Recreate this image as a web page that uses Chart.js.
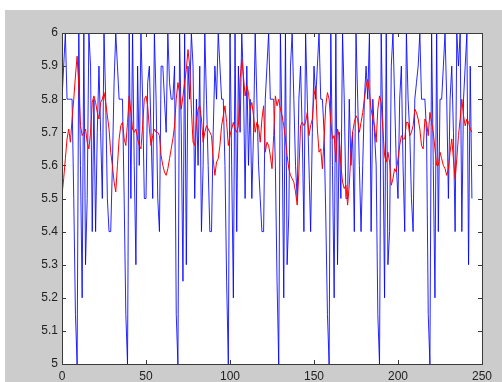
<!DOCTYPE html>
<html>
<head>
<meta charset="utf-8">
<script src="https://cdn.jsdelivr.net/npm/chart.js@4"></script>
<style>
  html, body { margin: 0; padding: 0; background: #fff; }
  #wrap { width: 502px; height: 382px; }
</style>
</head>
<body>
<div id="wrap"><canvas id="c" width="502" height="382"></canvas></div>
<script>
// values, one per sample (index = x)
var blueSeries = [
  5.8, 5.9, 6.0, 5.8, 5.8, 5.8, 5.8, 5.5, 5.15, 5.0, 6.0, 5.6, 5.2, 6.0, 5.3, 5.5, 6.0, 5.9, 5.4, 5.8, 5.4, 5.7, 5.9, 5.7, 5.5, 6.0, 5.8, 5.5, 5.4, 5.4,
  5.6, 5.85, 6.0, 5.9, 5.8, 5.8, 5.8, 5.5, 5.15, 5.0, 6.0, 5.5, 6.0, 5.6, 5.3, 5.9, 5.6, 6.0, 5.8, 5.5, 5.5, 5.85, 5.9, 5.7, 5.5, 6.0, 5.8, 5.5, 5.4, 5.9,
  5.9, 5.8, 5.7, 6.0, 5.85, 5.8, 5.8, 5.9, 5.15, 5.0, 6.0, 5.7, 5.25, 6.0, 5.3, 5.9, 5.8, 6.0, 5.9, 5.5, 5.8, 5.6, 5.9, 5.4, 5.6, 6.0, 5.8, 5.6, 5.4, 5.4,
  5.7, 5.9, 5.8, 6.0, 5.9, 5.8, 5.8, 5.6, 5.25, 5.0, 6.0, 5.6, 5.2, 6.0, 5.4, 5.9, 5.7, 6.0, 5.85, 5.5, 5.9, 5.6, 5.8, 5.5, 5.7, 6.0, 5.8, 5.6, 5.5, 5.4,
  5.4, 5.8, 5.9, 6.0, 5.8, 5.8, 5.8, 5.6, 5.25, 5.0, 6.0, 5.7, 5.2, 6.0, 5.3, 5.45, 5.9, 6.0, 5.8, 5.6, 5.5, 5.8, 5.9, 5.7, 5.4, 6.0, 5.8, 5.6, 5.4, 5.7,
  5.9, 5.8, 5.9, 6.0, 5.8, 5.8, 5.7, 5.45, 5.15, 5.0, 6.0, 5.6, 5.2, 6.0, 5.3, 5.7, 5.5, 6.0, 5.8, 5.5, 5.5, 5.8, 5.6, 5.7, 5.4, 6.0, 5.8, 5.6, 5.4, 5.6,
  5.8, 5.9, 5.8, 6.0, 5.4, 5.8, 5.7, 5.6, 5.15, 5.0, 6.0, 5.7, 5.2, 6.0, 5.3, 5.4, 5.9, 6.0, 5.8, 5.6, 5.5, 5.8, 5.9, 5.6, 5.4, 6.0, 5.8, 5.7, 5.5, 5.4,
  5.8, 5.85, 5.9, 6.0, 5.8, 5.8, 5.8, 5.7, 5.15, 5.0, 6.0, 5.6, 5.2, 6.0, 5.4, 5.8, 5.8, 5.9, 6.0, 5.8, 5.5, 5.8, 5.9, 5.7, 5.4, 6.0, 5.9, 6.0, 5.4, 5.8,
  5.9, 6.0, 5.3, 5.9, 5.5
];

var redSeries = [
  5.51, 5.56, 5.62, 5.68, 5.71, 5.67, 5.74, 5.80, 5.87, 5.93, 5.84, 5.72, 5.69, 5.70, 5.71, 5.67, 5.65, 5.70, 5.79, 5.81,
  5.79, 5.76, 5.74, 5.79, 5.80, 5.82, 5.79, 5.75, 5.71, 5.64, 5.60, 5.55, 5.52, 5.60, 5.68, 5.72, 5.73, 5.68, 5.66, 5.73,
  5.81, 5.76, 5.71, 5.70, 5.71, 5.68, 5.66, 5.65, 5.72, 5.80, 5.81, 5.78, 5.71, 5.66, 5.69, 5.71, 5.70, 5.70, 5.69, 5.63,
  5.60, 5.58, 5.57, 5.59, 5.62, 5.65, 5.68, 5.72, 5.80, 5.85, 5.82, 5.77, 5.81, 5.85, 5.89, 5.95, 5.90, 5.77, 5.67, 5.66,
  5.73, 5.77, 5.78, 5.74, 5.67, 5.70, 5.72, 5.71, 5.70, 5.69, 5.62, 5.57, 5.61, 5.62, 5.66, 5.72, 5.75, 5.78, 5.73, 5.66,
  5.69, 5.71, 5.73, 5.71, 5.70, 5.72, 5.86, 5.92, 5.87, 5.81, 5.84, 5.82, 5.77, 5.79, 5.75, 5.70, 5.73, 5.72, 5.67, 5.74,
  5.78, 5.64, 5.67, 5.66, 5.63, 5.59, 5.69, 5.81, 5.78, 5.80, 5.77, 5.75, 5.72, 5.68, 5.63, 5.59, 5.57, 5.56, 5.55, 5.52,
  5.48, 5.58, 5.72, 5.73, 5.72, 5.73, 5.76, 5.69, 5.72, 5.74, 5.81, 5.84, 5.71, 5.64, 5.65, 5.59, 5.68, 5.78, 5.82, 5.80,
  5.73, 5.68, 5.69, 5.61, 5.71, 5.69, 5.60, 5.55, 5.53, 5.54, 5.48, 5.54, 5.64, 5.70, 5.73, 5.75, 5.74, 5.70, 5.73, 5.76,
  5.80, 5.84, 5.86, 5.82, 5.77, 5.74, 5.72, 5.67, 5.77, 5.81, 5.79, 5.71, 5.63, 5.61, 5.64, 5.61, 5.54, 5.56, 5.59, 5.58,
  5.62, 5.66, 5.69, 5.68, 5.68, 5.73, 5.73, 5.69, 5.70, 5.72, 5.77, 5.76, 5.74, 5.71, 5.66, 5.65, 5.74, 5.73, 5.69, 5.76,
  5.73, 5.70, 5.65, 5.60, 5.60, 5.64, 5.62, 5.60, 5.59, 5.57, 5.59, 5.64, 5.68, 5.62, 5.56, 5.62, 5.69, 5.74, 5.80, 5.75,
  5.72, 5.74, 5.73, 5.71, 5.70
];

var xTicks = [0, 50, 100, 150, 200, 250];
var yTicks = [5, 5.1, 5.2, 5.3, 5.4, 5.5, 5.6, 5.7, 5.8, 5.9, 6];

function toPoints(arr) {
  return arr.map(function (v, i) { return { x: i, y: v }; });
}

// grey figure, white axes, black box with inward ticks on all sides
var matlabFrame = {
  id: 'matlabFrame',
  beforeDraw: function (chart) {
    var c = chart.ctx, a = chart.chartArea;
    c.save();
    c.fillStyle = '#ffffff';
    c.fillRect(0, 0, chart.width, chart.height);
    c.fillStyle = '#cccccc';
    c.fillRect(5, 10, chart.width - 5, chart.height - 10);
    c.fillStyle = '#ffffff';
    c.fillRect(a.left, a.top, a.right - a.left, a.bottom - a.top);
    c.restore();
  },
  afterDraw: function (chart) {
    var c = chart.ctx, a = chart.chartArea;
    var xs = chart.scales.x, ys = chart.scales.y;
    var len = 4;
    c.save();
    c.strokeStyle = '#3a3a3a';
    c.lineWidth = 1;
    c.beginPath();
    xTicks.forEach(function (v) {
      var px = Math.round(xs.getPixelForValue(v)) + 0.5;
      c.moveTo(px, a.bottom); c.lineTo(px, a.bottom - len);
      c.moveTo(px, a.top); c.lineTo(px, a.top + len);
    });
    yTicks.forEach(function (v) {
      var py = Math.round(ys.getPixelForValue(v)) + 0.5;
      c.moveTo(a.left, py); c.lineTo(a.left + len, py);
      c.moveTo(a.right, py); c.lineTo(a.right - len, py);
    });
    c.stroke();
    c.strokeRect(Math.round(a.left) + 0.5, Math.round(a.top) + 0.5,
      Math.round(a.right - a.left), Math.round(a.bottom - a.top));
    c.restore();
  }
};

var tickFont = { family: 'Liberation Sans, Arial, sans-serif', size: 12 };

new Chart(document.getElementById('c'), {
  type: 'line',
  data: {
    datasets: [
      {
        label: 'smoothed',
        data: toPoints(redSeries),
        borderColor: '#ff0000',
        borderWidth: 1,
        pointRadius: 0,
        fill: false,
        tension: 0
      },
      {
        label: 'raw',
        data: toPoints(blueSeries),
        borderColor: 'rgba(0, 0, 255, 0.85)',
        borderWidth: 1,
        pointRadius: 0,
        fill: false,
        tension: 0
      }
    ]
  },
  options: {
    responsive: false,
    animation: false,
    events: [],
    layout: { padding: { left: 5, top: 33, right: 20, bottom: 0 } },
    plugins: { legend: { display: false }, tooltip: { enabled: false } },
    scales: {
      x: {
        type: 'linear',
        min: 0,
        max: 250,
        grid: { display: false, drawTicks: false },
        border: { display: false },
        afterBuildTicks: function (s) { s.ticks = xTicks.map(function (v) { return { value: v }; }); },
        afterFit: function (s) { s.height = 18; },
        ticks: { color: '#222', font: tickFont, padding: 5, maxRotation: 0 }
      },
      y: {
        min: 5,
        max: 6,
        grid: { display: false, drawTicks: false },
        border: { display: false },
        afterBuildTicks: function (s) { s.ticks = yTicks.map(function (v) { return { value: v }; }); },
        afterFit: function (s) { s.width = 57; },
        ticks: {
          color: '#222',
          font: tickFont,
          padding: 4,
          callback: function (v) { return String(Math.round(v * 10) / 10); }
        }
      }
    }
  },
  plugins: [matlabFrame]
});
</script>
</body>
</html>
